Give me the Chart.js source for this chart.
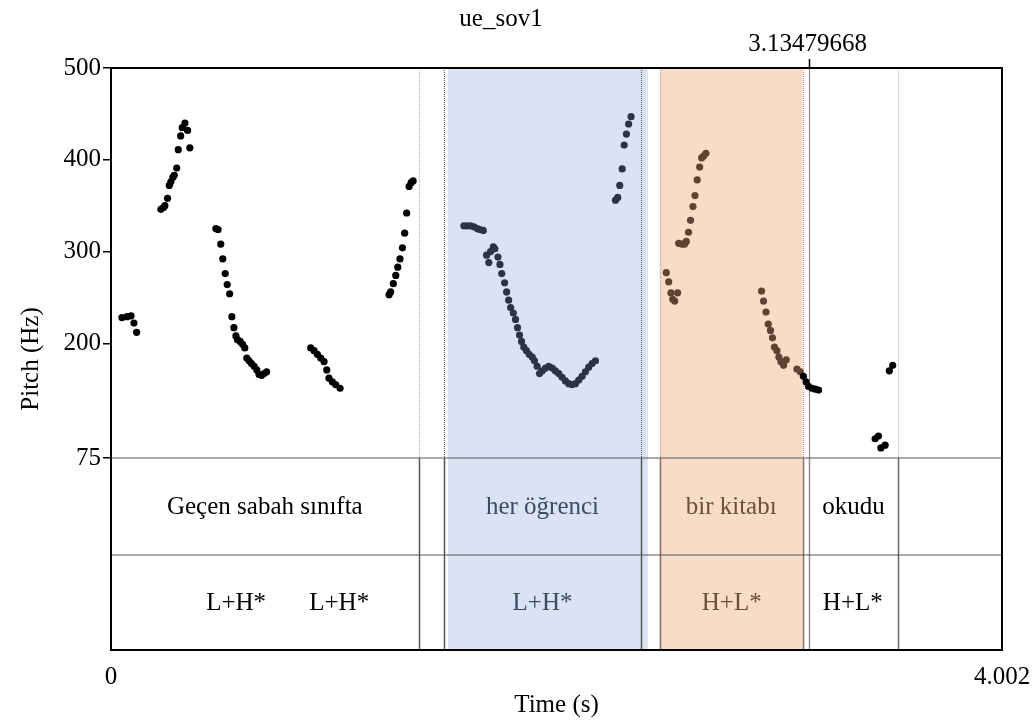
<!DOCTYPE html>
<html>
<head>
<meta charset="utf-8">
<title>ue_sov1</title>
<script src="https://cdn.jsdelivr.net/npm/chart.js@4.4.1/dist/chart.umd.min.js"></script>
<style>
  html, body { margin: 0; padding: 0; background: #fff; }
  #wrap { width: 1032px; height: 725px; }
</style>
</head>
<body>
<div id="wrap"><canvas id="pitchChart" width="1032" height="725"></canvas></div>
<script>
// pitch track: time (s) and F0 (Hz), one entry per voiced frame
const timeSec = [
  0.049, 0.072, 0.090, 0.103, 0.115,
  0.224, 0.236, 0.242, 0.254, 0.262, 0.269, 0.278, 0.284, 0.295, 0.302, 0.313, 0.320, 0.332, 0.344, 0.354,
  0.471, 0.481, 0.493, 0.502, 0.513, 0.522, 0.533, 0.543, 0.552, 0.561, 0.568, 0.580, 0.591, 0.601, 0.610,
  0.620, 0.631, 0.643, 0.655, 0.665, 0.676, 0.688, 0.699,
  0.897, 0.912, 0.927, 0.942, 0.957, 0.969, 0.979, 0.994, 1.009, 1.029,
  1.249, 1.256, 1.268, 1.279, 1.288, 1.298, 1.309, 1.319, 1.328, 1.339, 1.348, 1.357,
  1.585, 1.600, 1.615, 1.630, 1.645, 1.657, 1.672,
  1.687, 1.697, 1.705, 1.717, 1.724, 1.738, 1.747, 1.755, 1.768, 1.777, 1.786, 1.795, 1.807, 1.817,
  1.826, 1.835, 1.844, 1.854, 1.866, 1.878, 1.892, 1.902, 1.914, 1.925, 1.937, 1.952, 1.966, 1.982,
  1.996, 2.011, 2.026, 2.041, 2.056, 2.071, 2.086, 2.101, 2.116, 2.131, 2.146, 2.161, 2.176,
  2.266, 2.276, 2.285, 2.296, 2.305, 2.315, 2.325, 2.336,
  2.494, 2.505, 2.515, 2.523, 2.532, 2.545,
  2.550, 2.565, 2.576, 2.584, 2.594, 2.603, 2.614, 2.623, 2.633, 2.644, 2.653, 2.662, 2.672,
  2.922, 2.931, 2.942, 2.952, 2.962, 2.971, 2.980, 2.991, 3.000, 3.009, 3.021, 3.033,
  3.081, 3.096, 3.110, 3.122, 3.133, 3.148, 3.163, 3.178,
  3.432, 3.447, 3.458, 3.477,
  3.496, 3.511
];
const pitchHz = [
  228, 229, 230, 222, 212,
  346, 348, 350, 358, 372, 376, 381, 383, 391, 411, 426, 435, 440, 432, 413,
  325, 324, 308, 292, 276, 264, 254, 229, 217, 208, 204, 202, 199, 195, 184,
  181, 178, 175, 171, 166, 165, 167, 169,
  195, 192, 188, 184, 180, 171, 162, 158, 155, 151,
  253, 256, 265, 274, 283, 292, 304, 320, 342, 371, 375, 377,
  328, 328, 328, 327, 325, 324, 323,
  296, 288, 300, 305, 303, 294, 286, 276, 266, 256, 247, 239, 233, 226,
  217, 209, 202, 196, 192, 188, 185, 181, 175, 167, 170, 173, 175, 173,
  170, 167, 163, 159, 156, 155, 156, 160, 164, 169, 174, 178, 181,
  356, 359, 372, 390, 416, 428, 439, 447,
  277, 267, 255, 248, 246, 255,
  309, 308, 308, 311, 321, 334, 349, 361, 378, 392, 402, 404, 407,
  257, 246, 234, 221, 214, 206, 196, 192, 185, 180, 176, 182,
  172, 169, 164, 158, 153, 151, 150, 149,
  96, 99, 86, 89,
  170, 176
];

const yTicks = [500, 400, 300, 200, 75];
const xTicks = [0, 4.002];

// word tier: interval edges and labels
const wordEdges = [0, 1.382, 1.494, 2.382, 2.465, 3.106, 3.135, 3.536, 4.002];
const wordLabels = ['Geçen sabah sınıfta', '', 'her öğrenci', '', 'bir kitabı', '', 'okudu', ''];

// tone tier
const toneTimes = [0.562, 1.025, 1.938, 2.788, 3.332];
const toneLabels = ['L+H*', 'L+H*', 'L+H*', 'H+L*', 'H+L*'];

// highlighted stretches
const blueSpan = [1.514, 2.411];
const orangeSpan = [2.465, 3.106];
const cursorTime = 3.13479668;

// vertical room below 75 Hz used for the two tiers
const yBottom = -134.2;
const tierSplit = -30.7;

const serif = "'Liberation Serif', 'Times New Roman', serif";
const font25 = { family: serif, size: 25, weight: 'normal' };

function inSpan(t, s) { return t >= s[0] && t <= s[1]; }

function dotColor(t) {
  if (inSpan(t, blueSpan)) return '#2b3345';
  if (inSpan(t, orangeSpan)) return '#5e4330';
  return '#000';
}

function textColor(t) {
  if (inSpan(t, blueSpan)) return '#3d4a66';
  if (inSpan(t, orangeSpan)) return '#6e4d38';
  return '#000';
}

// style of each boundary: [pitch area colour, dotted?, tier colour]
function edgeStyle(t) {
  if (Math.abs(t - 1.382) < 0.001) return ['#b8b8b8', true, '#555'];
  if (Math.abs(t - 2.465) < 0.001 || Math.abs(t - 3.106) < 0.001) return ['#c8a088', true, '#8a6a58'];
  if (Math.abs(t - 3.135) < 0.001) return ['#8c8c8c', false, '#8c8c8c'];
  if (Math.abs(t - 3.536) < 0.001) return ['#bcbcbc', true, '#666'];
  return ['#666', true, '#555'];
}

function vline(ctx, x, y0, y1, color, width, dotted) {
  ctx.save();
  ctx.strokeStyle = color;
  ctx.lineWidth = width;
  if (dotted) ctx.setLineDash([1, 1]);
  ctx.beginPath();
  ctx.moveTo(x, y0);
  ctx.lineTo(x, y1);
  ctx.stroke();
  ctx.restore();
}

const tierPlugin = {
  id: 'tiers',
  beforeDatasetsDraw(chart) {
    const { ctx, chartArea: a, scales: { x, y } } = chart;
    const pitchBottom = y.getPixelForValue(75);

    ctx.save();
    ctx.fillStyle = '#dae3f3';
    let x0 = x.getPixelForValue(blueSpan[0]), x1 = x.getPixelForValue(blueSpan[1]);
    ctx.fillRect(x0, a.top, x1 - x0, a.bottom - a.top);
    ctx.fillStyle = '#f9dcc8';
    x0 = x.getPixelForValue(orangeSpan[0]); x1 = x.getPixelForValue(orangeSpan[1]);
    ctx.fillRect(x0, a.top, x1 - x0, a.bottom - a.top);
    ctx.restore();

    // boundaries through the pitch area
    wordEdges.slice(1, -1).forEach(t => {
      const st = edgeStyle(t);
      vline(ctx, Math.round(x.getPixelForValue(t)) + 0.5, a.top, pitchBottom, st[0], 1.2, st[1]);
    });
  },
  afterDatasetsDraw(chart) {
    const { ctx, chartArea: a, scales: { x, y } } = chart;
    const pitchBottom = y.getPixelForValue(75);
    const splitY = y.getPixelForValue(tierSplit);

    // tier boundaries
    wordEdges.slice(1, -1).forEach(t => {
      const st = edgeStyle(t);
      vline(ctx, Math.round(x.getPixelForValue(t)) + 0.5, pitchBottom, a.bottom, st[2], 1.5, false);
    });

    // tier separators
    ctx.save();
    ctx.strokeStyle = '#555';
    ctx.lineWidth = 1.2;
    [pitchBottom, splitY].forEach(py => {
      ctx.beginPath();
      ctx.moveTo(a.left, py);
      ctx.lineTo(a.right, py);
      ctx.stroke();
    });
    ctx.restore();

    // tier texts
    ctx.save();
    ctx.font = '25px ' + serif;
    ctx.textAlign = 'center';
    ctx.textBaseline = 'middle';
    const wordY = (pitchBottom + splitY) / 2 + 1;
    const toneY = (splitY + a.bottom) / 2 + 1;
    wordLabels.forEach((lab, i) => {
      if (!lab) return;
      const mid = (wordEdges[i] + wordEdges[i + 1]) / 2;
      ctx.fillStyle = textColor(mid);
      ctx.fillText(lab, x.getPixelForValue(mid), wordY);
    });
    toneLabels.forEach((lab, i) => {
      ctx.fillStyle = textColor(toneTimes[i]);
      ctx.fillText(lab, x.getPixelForValue(toneTimes[i]), toneY);
    });

    // cursor mark and its time
    const cx = Math.round(x.getPixelForValue(cursorTime)) + 0.5;
    vline(ctx, cx, a.top - 9, a.top, '#000', 1.5, false);
    ctx.fillStyle = '#000';
    ctx.fillText(cursorTime.toFixed(8), cx - 2, a.top - 24);

    // frame
    ctx.strokeStyle = '#000';
    ctx.lineWidth = 2;
    ctx.strokeRect(a.left, a.top, a.right - a.left, a.bottom - a.top);
    ctx.restore();
  }
};

new Chart(document.getElementById('pitchChart'), {
  type: 'scatter',
  data: {
    datasets: [{
      label: 'Pitch',
      data: timeSec.map((t, i) => ({ x: t, y: pitchHz[i] })),
      pointRadius: 3.6,
      pointBorderWidth: 0,
      backgroundColor: c => dotColor(c.raw ? c.raw.x : 0)
    }]
  },
  options: {
    responsive: false,
    animation: false,
    layout: { padding: { left: 0, right: 30, top: 0, bottom: 0 } },
    plugins: {
      legend: { display: false },
      tooltip: { enabled: false },
      title: {
        display: true,
        text: 'ue_sov1',
        color: '#000',
        font: font25,
        padding: { top: 4, bottom: 34 }
      }
    },
    scales: {
      x: {
        type: 'linear',
        min: 0,
        max: 4.002,
        afterBuildTicks: s => { s.ticks = xTicks.map(v => ({ value: v })); },
        afterFit: s => { s.height = 75; s.paddingLeft = 0; s.paddingRight = 0; },
        ticks: { color: '#000', font: font25, padding: 12, maxRotation: 0, autoSkip: false, callback: v => String(v) },
        grid: { display: false, drawTicks: false },
        border: { display: false },
        title: { display: true, text: 'Time (s)', color: '#000', font: font25, padding: { top: 0, bottom: 5 } }
      },
      y: {
        min: yBottom,
        max: 500,
        afterBuildTicks: s => { s.ticks = yTicks.map(v => ({ value: v })); },
        afterFit: s => { s.width = 111; },
        ticks: { color: '#000', font: font25, padding: 2, autoSkip: false },
        grid: { drawOnChartArea: false, drawTicks: true, tickLength: 8, color: '#000', lineWidth: 1.5 },
        border: { display: false },
        title: { display: true, text: 'Pitch (Hz)', color: '#000', font: font25, padding: { top: 16, bottom: 0 } }
      }
    }
  },
  plugins: [tierPlugin]
});
</script>
</body>
</html>
